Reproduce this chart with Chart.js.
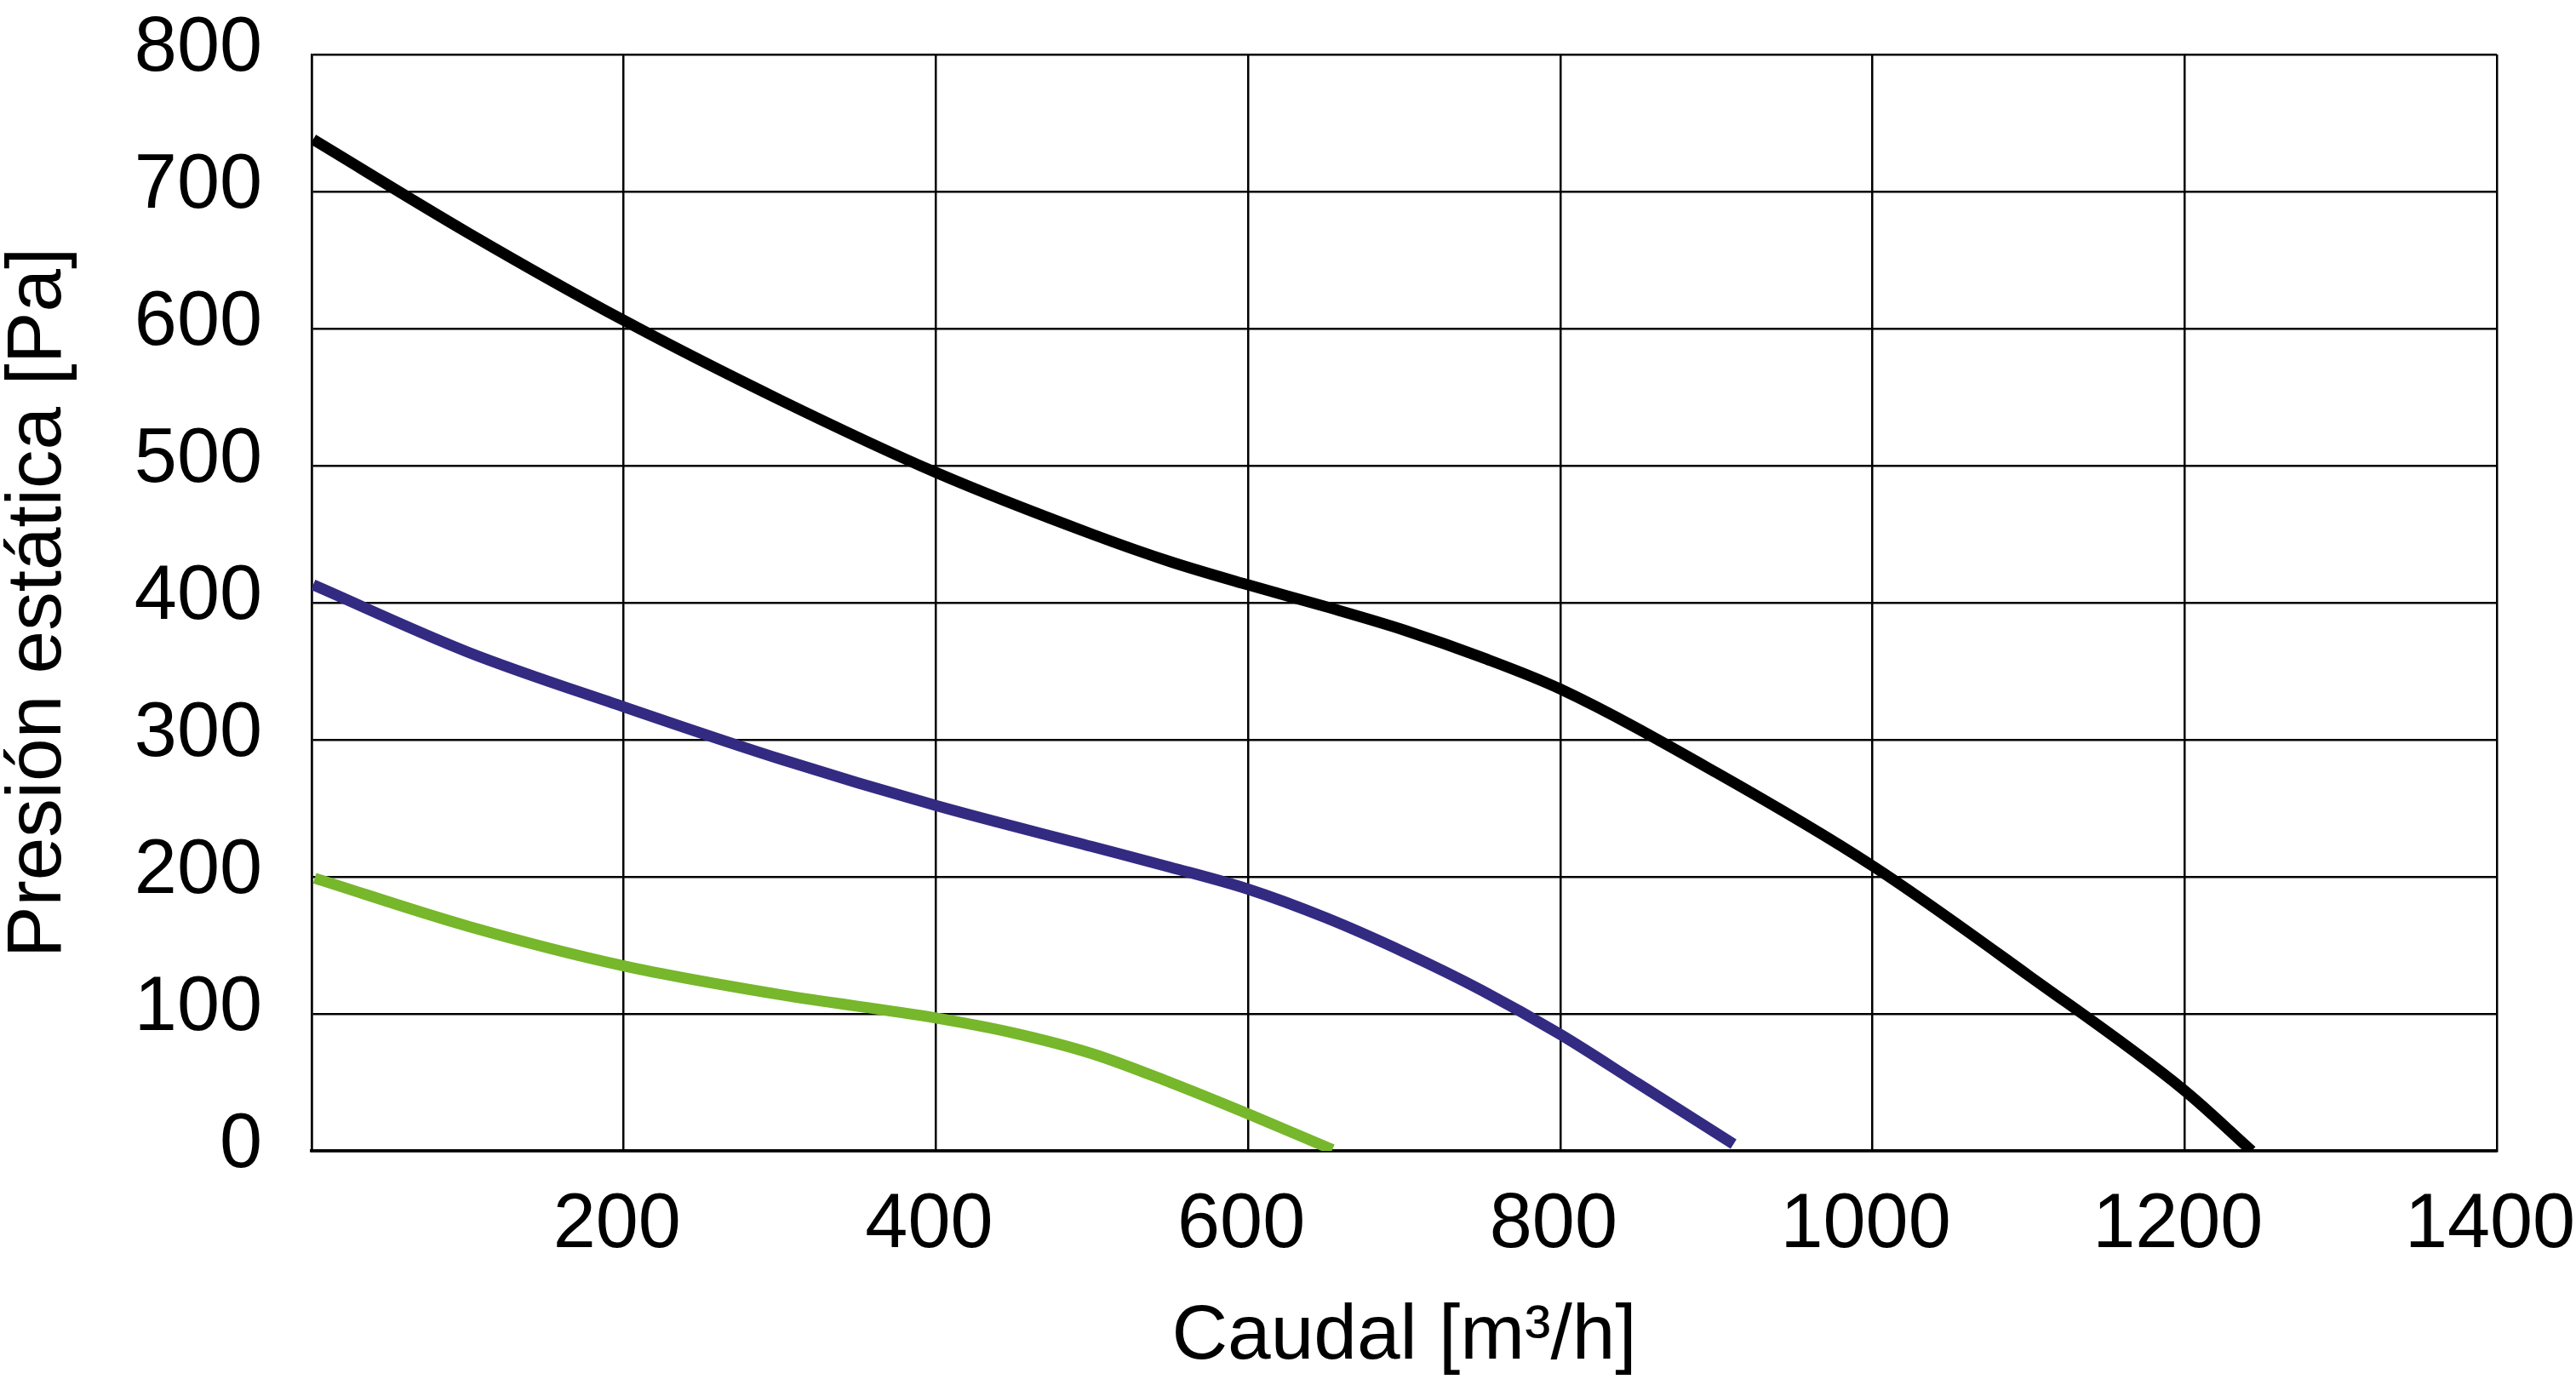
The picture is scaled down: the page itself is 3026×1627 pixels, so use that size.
<!DOCTYPE html>
<html>
<head>
<meta charset="utf-8">
<script src="https://cdn.jsdelivr.net/npm/chart.js@4.4.0/dist/chart.umd.min.js"></script>
<style>
  html, body { margin: 0; padding: 0; background: #ffffff; }
  #wrap { width: 3026px; height: 1627px; }
</style>
</head>
<body>
<div id="wrap"><canvas id="c" width="3026" height="1627"></canvas></div>
<script>
// Tick values
const xTicks = [0, 200, 400, 600, 800, 1000, 1200, 1400];
const yTicks = [0, 100, 200, 300, 400, 500, 600, 700, 800];

// Series: caudal [m³/h] and presión estática [Pa]
const blackX = [1, 100, 200, 300, 400, 500, 550, 600, 650, 700, 750, 800, 900, 1000, 1100, 1200, 1243];
const blackY = [738, 670, 606, 548, 495, 450, 430, 413, 397, 380, 360, 337, 276, 208, 128, 44, 0];

const blueX = [1, 100, 200, 300, 400, 500, 550, 600, 650, 700, 750, 800, 850, 911];
const blueY = [413, 364, 324, 286, 252, 222, 207, 191, 170, 145, 117, 85, 49, 5];

const greenX = [2, 100, 200, 300, 400, 450, 500, 550, 600, 654];
const greenY = [199, 164, 135, 114, 97, 86, 71, 50, 27, 1];

const toPts = (xs, ys) => xs.map((x, i) => ({ x: x, y: ys[i] }));

const FONT = "'Liberation Sans', Arial, sans-serif";

new Chart(document.getElementById('c'), {
  type: 'line',
  data: {
    datasets: [
      { label: 'A', data: toPts(blackX, blackY), borderColor: '#000000' },
      { label: 'B', data: toPts(blueX, blueY), borderColor: '#332b82' },
      { label: 'C', data: toPts(greenX, greenY), borderColor: '#76b72b' }
    ].map(d => Object.assign(d, {
      borderWidth: 13, pointRadius: 0, pointHoverRadius: 0, fill: false,
      cubicInterpolationMode: 'monotone', borderCapStyle: 'butt', borderJoinStyle: 'round'
    }))
  },
  options: {
    responsive: false,
    animation: false,
    events: [],
    layout: { padding: { top: 64, right: 93, left: 0, bottom: 0 } },
    plugins: { legend: { display: false }, tooltip: { enabled: false } },
    scales: {
      x: {
        type: 'linear',
        min: xTicks[0], max: xTicks[xTicks.length - 1],
        afterBuildTicks: (s) => { s.ticks = xTicks.map(v => ({ value: v })); },
        afterFit: (s) => { s.height = 275; s.paddingLeft = 0; s.paddingRight = 0; },
        grid: { color: '#000000', lineWidth: 2.5, drawTicks: false },
        border: { color: '#000000', width: 3.5 },
        ticks: {
          color: '#000000', padding: 34, labelOffset: -8, maxRotation: 0, autoSkip: false,
          font: { family: FONT, size: 90, lineHeight: 1.2 },
          callback: (v) => (v === 0 ? '' : String(v))
        },
        title: {
          display: true, text: 'Caudal [m³/h]', color: '#000000',
          font: { family: FONT, size: 91, lineHeight: 1.2 }, padding: { top: 0, bottom: 1 }
        }
      },
      y: {
        min: yTicks[0], max: yTicks[yTicks.length - 1],
        afterBuildTicks: (s) => { s.ticks = yTicks.map(v => ({ value: v })); },
        afterFit: (s) => { s.width = 366; s.paddingTop = 0; s.paddingBottom = 0; },
        grid: { color: '#000000', lineWidth: 2.5, drawTicks: false },
        border: { color: '#000000', width: 2.5 },
        ticks: {
          color: '#000000', padding: 58, labelOffset: -6, autoSkip: false,
          font: { family: FONT, size: 90, lineHeight: 1.2 },
          callback: (v) => String(v)
        },
        title: {
          display: true, text: 'Presión estática [Pa]', color: '#000000',
          font: { family: FONT, size: 91, lineHeight: 1.0 }, padding: { top: 0, bottom: 0 }
        }
      }
    }
  }
});
</script>
</body>
</html>
